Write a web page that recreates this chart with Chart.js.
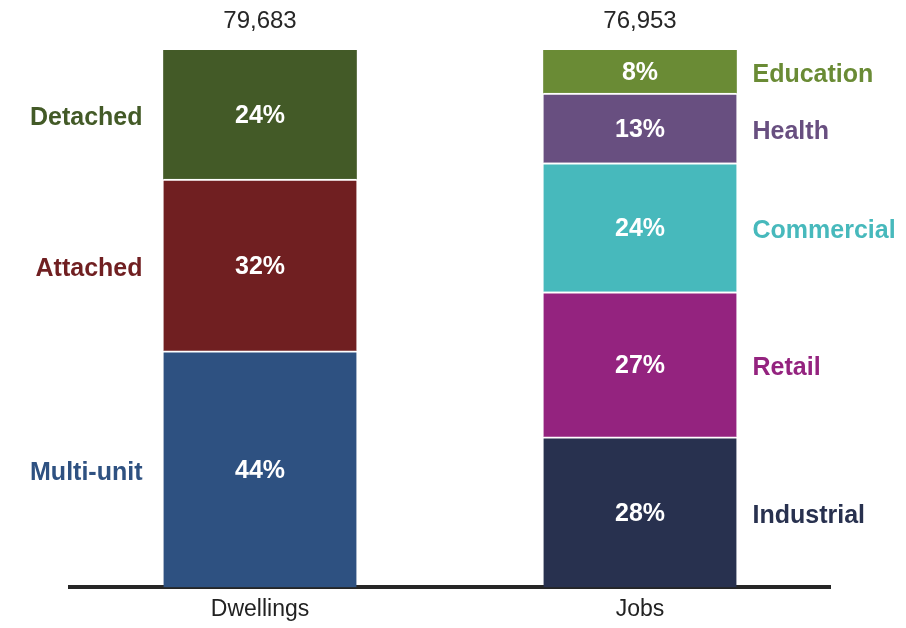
<!DOCTYPE html>
<html>
<head>
<meta charset="utf-8">
<script src="https://cdn.jsdelivr.net/npm/chart.js@4.4.1/dist/chart.umd.min.js"></script>
<style>
  html, body { margin: 0; padding: 0; background: #fff; }
  #wrap { width: 906px; height: 628px; }
</style>
</head>
<body>
<div id="wrap"><canvas id="myChart"></canvas></div>
<script>
// Bars and their totals
const bars = ['Dwellings', 'Jobs'];
const totals = [79683, 76953];

// Dwellings split (bottom to top)
const dwellingTypes = ['Multi-unit', 'Attached', 'Detached'];
const dwellingShares = [44, 32, 24];
const dwellingColors = ['#2e5181', '#701f21', '#435a27'];

// Jobs split (bottom to top)
const jobTypes = ['Industrial', 'Retail', 'Commercial', 'Health', 'Education'];
const jobShares = [28, 27, 24, 13, 8];
const jobColors = ['#28314f', '#94237f', '#47b9bc', '#684f80', '#6a8b35'];

const FONT = 'Arial, "Liberation Sans", sans-serif';

function makeSets(types, shares, colors, barIndex) {
  return types.map((name, i) => {
    const data = bars.map((b, j) => (j === barIndex ? shares[i] : null));
    return {
      label: name,
      data: data,
      backgroundColor: colors[i],
      borderColor: '#ffffff',
      // white line between stacked pieces, none on the topmost one
      borderWidth: i === types.length - 1 ? 0 : { top: 2, left: 0, right: 0, bottom: 0 },
      borderSkipped: false,
      barThickness: 193,
      stack: 's',
      side: barIndex === 0 ? 'left' : 'right'
    };
  });
}

const datasets = makeSets(dwellingTypes, dwellingShares, dwellingColors, 0)
  .concat(makeSets(jobTypes, jobShares, jobColors, 1));

// draws the % inside each piece, the category names beside the bars and the totals on top
const labelPlugin = {
  id: 'barLabels',
  afterDatasetsDraw(chart) {
    const ctx = chart.ctx;
    ctx.save();
    ctx.textBaseline = 'middle';
    chart.data.datasets.forEach((ds, di) => {
      const meta = chart.getDatasetMeta(di);
      meta.data.forEach((el, idx) => {
        const v = ds.data[idx];
        if (v == null) return;
        const top = el.y, bottom = el.base;
        const cy = (top + bottom) / 2;
        const half = el.width / 2;
        ctx.font = 'bold 25px ' + FONT;
        ctx.fillStyle = '#ffffff';
        ctx.textAlign = 'center';
        ctx.fillText(v + '%', el.x, cy + 2);
        ctx.fillStyle = ds.backgroundColor;
        if (ds.side === 'left') {
          ctx.textAlign = 'right';
          ctx.fillText(ds.label, el.x - half - 21, cy + 4);
        } else {
          ctx.textAlign = 'left';
          ctx.fillText(ds.label, el.x + half + 16, cy + 4);
        }
      });
    });
    // totals above each bar
    const x = chart.scales.x, y = chart.scales.y;
    ctx.font = '24px ' + FONT;
    ctx.fillStyle = '#262626';
    ctx.textAlign = 'center';
    totals.forEach((t, i) => {
      ctx.fillText(t.toLocaleString('en-US'), x.getPixelForValue(i), y.getPixelForValue(100) - 29);
    });
    ctx.restore();
  }
};

const ctx = document.getElementById('myChart').getContext('2d');
const myChart = new Chart(ctx, {
  type: 'bar',
  data: { labels: bars, datasets: datasets },
  options: {
    responsive: true,
    maintainAspectRatio: false,
    animation: false,
    layout: { padding: { top: 50, left: 70, right: 76, bottom: -3 } },
    plugins: {
      legend: { display: false },
      tooltip: { enabled: false }
    },
    scales: {
      x: {
        stacked: true,
        grid: { display: false, drawTicks: false },
        border: { display: true, color: '#262626', width: 4 },
        ticks: { color: '#222222', font: { family: FONT, size: 23 }, padding: 8 }
      },
      y: {
        stacked: true,
        display: false,
        min: 0,
        max: 100
      }
    }
  },
  plugins: [labelPlugin]
});
</script>
</body>
</html>
